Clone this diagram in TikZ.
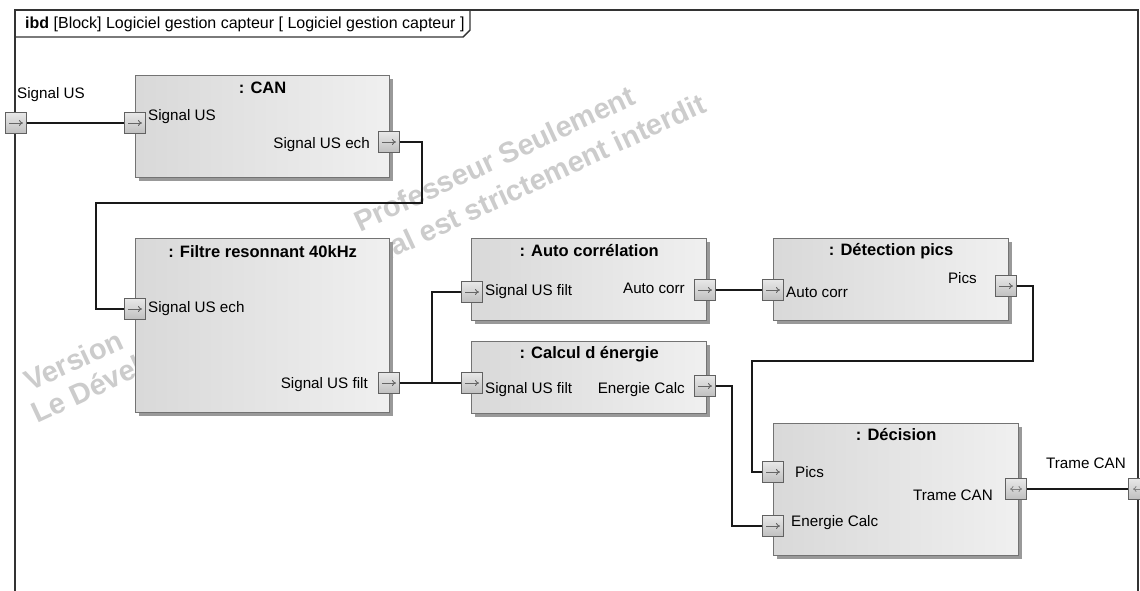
\documentclass[tikz,border=0pt]{standalone}
\usepackage{fontspec}
\setmainfont{Liberation Sans}
\usetikzlibrary{arrows.meta,shadows}
\begin{document}
\begin{tikzpicture}[x=1pt,y=-1pt,
  block/.style={draw=black!55, line width=1.3pt, left color=black!15, right color=black!6,
    drop shadow={shadow xshift=3pt, shadow yshift=-3pt, fill=black!40, opacity=1},
    inner sep=0pt, anchor=north west},
  port/.style={draw=black!62, line width=0.8pt, top color=black!9, bottom color=black!25,
    minimum size=21pt, inner sep=0pt},
  inarrow/.style={path picture={\draw[black!60,line width=0.9pt,-{To[length=4pt,width=6pt]}]
    ([xshift=-7pt]path picture bounding box.center) -- ([xshift=7pt]path picture bounding box.center);}},
  bidir/.style={path picture={\draw[black!50,line width=0.8pt,{To[length=3.5pt,width=6pt]}-{To[length=3.5pt,width=6pt]}]
    ([xshift=-6pt]path picture bounding box.center) -- ([xshift=6pt]path picture bounding box.center);}},
  lbl/.style={font=\fontsize{15.2}{18}\selectfont, inner sep=0pt},
  ttl/.style={font=\fontsize{16.5}{19}\selectfont\bfseries, inner sep=0pt},
  wm/.style={font=\fontsize{29}{30}\selectfont\bfseries, text=black!20, inner sep=0pt, anchor=base west, rotate=25},
  conn/.style={draw=black!90, line width=1.1pt},
  frame/.style={draw=black!80, line width=1.4pt}
]
\useasboundingbox (0,0) rectangle (1140,590);
\clip (0,0) rectangle (1140,590);
\fill[white] (0,0) rectangle (1140,590);

% watermark
\node[wm] (wm1) at (30,392) {Version};
\node[wm] (wm2) at (360,233) {Professeur Seulement};
\node[wm] (wm3) at (37,424) {Le Développement~};
\node[wm] (wm4) at (wm3.base east) {commercial est strictement interdit};

% frame
\draw[frame] (15,600) -- (15,10) -- (1138,10) -- (1138,600);
\draw[frame] (15,37) -- (463,37) -- (470,30) -- (470,10);
\node[anchor=west, inner sep=0pt, font=\fontsize{16}{19}\selectfont] (hdr) at (25,24) {\textbf{ibd} [Block] Logiciel gestion capteur [ Logiciel gestion capteur ]};

% blocks
\node[block, minimum width=254pt, minimum height=102pt] (can) at (135,75) {};
\node[block, minimum width=254pt, minimum height=174pt] (fil) at (135,238) {};
\node[block, minimum width=235pt, minimum height=82pt] (auto) at (471,238) {};
\node[block, minimum width=235pt, minimum height=72pt] (cal) at (471,341) {};
\node[block, minimum width=235pt, minimum height=82pt] (det) at (773,238) {};
\node[block, minimum width=245pt, minimum height=132pt] (dec) at (773,423) {};

\node[ttl] (t_can) at ([yshift=-13pt]can.north) {: CAN};
\node[ttl] (t_fil) at ([yshift=-14pt]fil.north) {: Filtre resonnant 40kHz};
\node[ttl] (t_auto) at ([yshift=-13pt]auto.north) {: Auto corrélation};
\node[ttl] (t_cal) at ([yshift=-13pt]cal.north) {: Calcul d énergie};
\node[ttl] (t_det) at ([yshift=-13pt]det.north) {: Détection pics};
\node[ttl] (t_dec) at ([yshift=-12pt]dec.north) {: Décision};

% ports
\node[port, inarrow] (p_extin) at (16,123) {};
\node[port, inarrow] (p_canin) at (135,123) {};
\node[port, inarrow] (p_canout) at (389,142) {};
\node[port, inarrow] (p_filin) at (135,309) {};
\node[port, inarrow] (p_filout) at (389,383) {};
\node[port, inarrow] (p_autoin) at (472,292) {};
\node[port, inarrow] (p_autoout) at (705,290) {};
\node[port, inarrow] (p_calin) at (472,383) {};
\node[port, inarrow] (p_calout) at (705,386) {};
\node[port, inarrow] (p_detin) at (773,290) {};
\node[port, inarrow] (p_detout) at (1006,286) {};
\node[port, inarrow] (p_decpics) at (773,472) {};
\node[port, inarrow] (p_decen) at (773,526) {};
\node[port, bidir] (p_decout) at (1016,489) {};
\node[port, bidir] (p_extout) at (1139,489) {};

% connectors
\coordinate (b1) at (422,203);
\coordinate (b2) at (96,203);
\coordinate (j1) at (432,383);
\coordinate (j2) at (732,386);
\coordinate (j3) at (1033,361);
\coordinate (j4) at (752,361);
\draw[conn] (p_extin) -- (p_canin);
\draw[conn] (p_canout.east) -| (b1) -- (b2) |- (p_filin.west);
\draw[conn] (p_filout) -- (p_calin);
\draw[conn] (j1) |- (p_autoin.west);
\draw[conn] (p_autoout) -- (p_detin);
\draw[conn] (p_calout.east) -- (j2) |- (p_decen.west);
\draw[conn] (p_detout.east) -| (j3) -- (j4) |- (p_decpics.west);
\draw[conn] (p_decout) -- (p_extout);

% labels
\node[lbl, anchor=west] (l_extin) at (17,95) {Signal US};
\node[lbl, anchor=west] (l_canin) at (148,117) {Signal US};
\node[lbl, anchor=east] (l_canout) at (370,145) {Signal US ech};
\node[lbl, anchor=west] (l_filin) at (148,309) {Signal US ech};
\node[lbl, anchor=east] (l_filout) at (368,385) {Signal US filt};
\node[lbl, anchor=west] (l_autoin) at (485,292) {Signal US filt};
\node[lbl, anchor=east] (l_autoout) at (685,288) {Auto corr};
\node[lbl, anchor=west] (l_calin) at (485,390) {Signal US filt};
\node[lbl, anchor=east] (l_calout) at (685,390) {Energie Calc};
\node[lbl, anchor=west] (l_detin) at (786,292) {Auto corr};
\node[lbl, anchor=east] (l_detout) at (977,278) {Pics};
\node[lbl, anchor=west] (l_decpics) at (795,472) {Pics};
\node[lbl, anchor=west] (l_decen) at (791,523) {Energie Calc};
\node[lbl, anchor=east] (l_decout) at (993,495) {Trame CAN};
\node[lbl, anchor=east] (l_extout) at (1126,463) {Trame CAN};
\end{tikzpicture}
\end{document}
